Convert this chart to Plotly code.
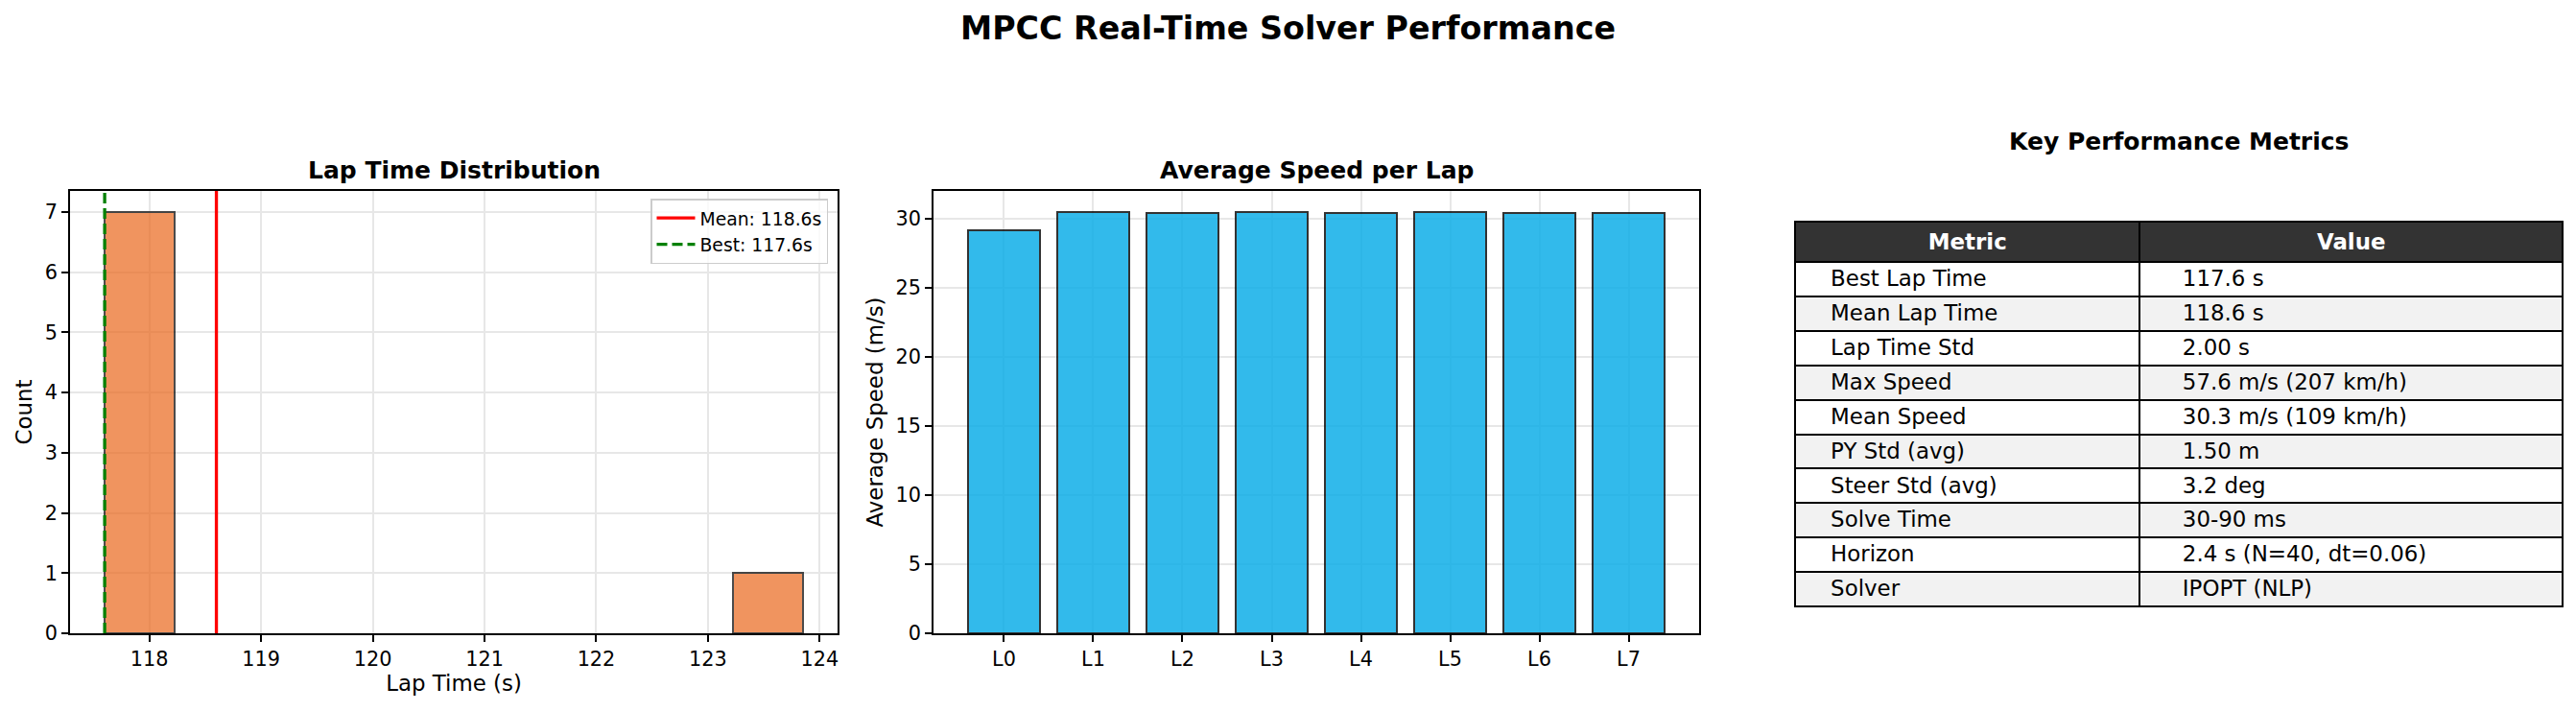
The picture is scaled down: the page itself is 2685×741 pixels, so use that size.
import numpy as np
import plotly.graph_objects as go

# ---------------- data ----------------
lap_times = [123.85, 117.60, 117.90, 117.85, 117.80, 118.00, 117.85, 117.95]
lap_labels = ["L0", "L1", "L2", "L3", "L4", "L5", "L6", "L7"]
avg_speeds = [29.17, 30.44, 30.39, 30.46, 30.42, 30.46, 30.40, 30.40]
hist_yticks = [0, 1, 2, 3, 4, 5, 6, 7]
hist_xticks = [118, 119, 120, 121, 122, 123, 124]
speed_yticks = [0, 5, 10, 15, 20, 25, 30]
metric_names = ["Best Lap Time", "Mean Lap Time", "Lap Time Std", "Max Speed",
                "Mean Speed", "PY Std (avg)", "Steer Std (avg)", "Solve Time",
                "Horizon", "Solver"]
metric_values = ["117.6 s", "118.6 s", "2.00 s", "57.6 m/s (207 km/h)",
                 "30.3 m/s (109 km/h)", "1.50 m", "3.2 deg", "30-90 ms",
                 "2.4 s (N=40, dt=0.06)", "IPOPT (NLP)"]
table_header = ["Metric", "Value"]

W, H = 2685, 741
FONT = "DejaVu Sans"

def px_x(p):
    return p / W

def px_y(p):
    return 1 - p / H

counts, edges = np.histogram(lap_times, bins=10)
centers = (edges[:-1] + edges[1:]) / 2
widths = np.diff(edges)
mask = counts > 0
mean_t = float(np.mean(lap_times))
best_t = float(np.min(lap_times))
hist_top = counts.max() * 1.05
speed_top = max(avg_speeds) * 1.05

fig = go.Figure()

# histogram
fig.add_trace(go.Bar(
    x=centers[mask], y=counts[mask], width=widths[mask],
    marker=dict(color="rgb(234,104,28)", line=dict(color="black", width=2)),
    opacity=0.7, showlegend=False, xaxis="x", yaxis="y",
))
fig.add_trace(go.Scatter(
    x=[mean_t, mean_t], y=[0, hist_top], mode="lines",
    line=dict(color="red", width=3.3), name=f"Mean: {mean_t:.1f}s",
    xaxis="x", yaxis="y",
))
fig.add_trace(go.Scatter(
    x=[best_t, best_t], y=[0, hist_top], mode="lines",
    line=dict(color="green", width=3.3, dash="11px,5px"), name=f"Best: {best_t:.1f}s",
    xaxis="x", yaxis="y",
))

# speed bars
fig.add_trace(go.Bar(
    x=lap_labels, y=avg_speeds, width=0.8,
    marker=dict(color="rgb(0,170,231)", line=dict(color="black", width=2)),
    opacity=0.8, showlegend=False, xaxis="x2", yaxis="y2",
))

# table
pad1 = "\u00a0" * 4
pad2 = "\u00a0" * 5
row_fill = ["white" if i % 2 == 0 else "#f2f2f2" for i in range(len(metric_names))]
fig.add_trace(go.Table(
    domain=dict(x=[px_x(1871), px_x(2671)], y=[px_y(660), px_y(231)]),
    columnwidth=[359, 440],
    header=dict(values=[f"<b>{h}</b>" for h in table_header],
                fill_color="#333333", align="center",
                font=dict(family=FONT, size=22.9, color="white"),
                line=dict(color="black", width=2), height=36.5),
    cells=dict(values=[[pad1 + m for m in metric_names], [pad2 + v for v in metric_values]],
               fill_color=[row_fill, row_fill], align="left",
               font=dict(family=FONT, size=22.9, color="black"),
               line=dict(color="black", width=2), height=35.9),
))

axis_common = dict(
    showline=True, linecolor="black", linewidth=1.7, mirror=True,
    ticks="outside", ticklen=7, tickwidth=1.7, tickcolor="black",
    showgrid=True, gridcolor="rgb(231,231,231)", gridwidth=1.7,
    zeroline=False, automargin=False,
    tickfont=dict(family=FONT, size=20.8, color="black"),
)

fig.update_layout(
    width=W, height=H, margin=dict(l=0, r=0, t=0, b=0, autoexpand=False),
    paper_bgcolor="white", plot_bgcolor="white",
    font=dict(family=FONT, color="black"),
    bargap=0,
    xaxis=dict(domain=[px_x(73), px_x(873)], range=[117.29, 124.16],
               tickvals=hist_xticks, anchor="y",
               title=dict(text="Lap Time (s)", font=dict(family=FONT, size=22.9), standoff=4),
               **axis_common),
    yaxis=dict(domain=[px_y(660), px_y(199)], range=[0, hist_top],
               tickvals=hist_yticks, anchor="x",
               title=dict(text="Count", font=dict(family=FONT, size=22.9), standoff=7),
               **axis_common),
    xaxis2=dict(domain=[px_x(973), px_x(1771)], range=[-0.79, 7.79],
                type="category", anchor="y2", **axis_common),
    yaxis2=dict(domain=[px_y(660), px_y(199)], range=[0, speed_top],
                tickvals=speed_yticks, anchor="x2",
                title=dict(text="Average Speed (m/s)", font=dict(family=FONT, size=22.9), standoff=7),
                **axis_common),
    legend=dict(x=px_x(863), y=px_y(207), xanchor="right", yanchor="top",
                bgcolor="rgba(255,255,255,0.8)", bordercolor="#cccccc", borderwidth=1.5,
                font=dict(family=FONT, size=18.75), tracegroupgap=0, itemwidth=40),
    annotations=[
        dict(text="<b>MPCC Real-Time Solver Performance</b>", x=0.5, y=px_y(29),
             xref="paper", yref="paper", showarrow=False, xanchor="center", yanchor="middle",
             font=dict(family=FONT, size=33.3)),
        dict(text="<b>Lap Time Distribution</b>", x=px_x((73 + 873) / 2), y=px_y(177),
             xref="paper", yref="paper", showarrow=False, xanchor="center", yanchor="middle",
             font=dict(family=FONT, size=25)),
        dict(text="<b>Average Speed per Lap</b>", x=px_x((973 + 1771) / 2), y=px_y(177),
             xref="paper", yref="paper", showarrow=False, xanchor="center", yanchor="middle",
             font=dict(family=FONT, size=25)),
        dict(text="<b>Key Performance Metrics</b>", x=px_x(2271), y=px_y(147),
             xref="paper", yref="paper", showarrow=False, xanchor="center", yanchor="middle",
             font=dict(family=FONT, size=25)),
    ],
)

fig.write_html("out.html")
